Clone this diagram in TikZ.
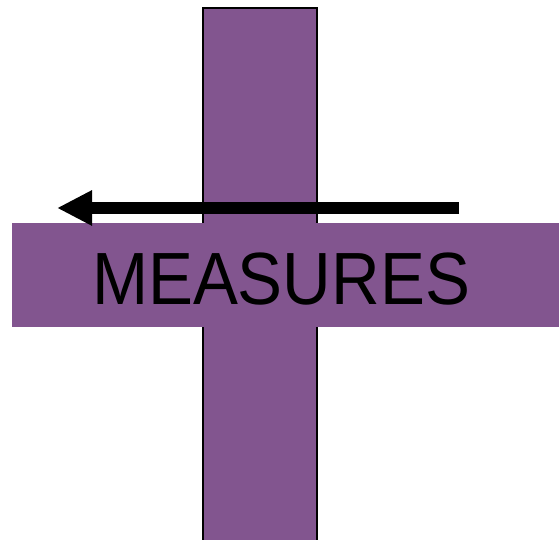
\documentclass[tikz,border=0pt]{standalone}
\usepackage{fontspec}
\setmainfont{Liberation Sans}
\usetikzlibrary{arrows.meta}
\definecolor{barpurple}{RGB}{130,85,143}
\tikzset{
  bar/.style={fill=barpurple},
  label/.style={font=\fontsize{74}{74}\selectfont, text=black, inner sep=0pt, anchor=base, xscale=0.91},
  bigarrow/.style={line width=12pt, -{Triangle[length=35pt,width=33pt]}}
}
\begin{document}
\begin{tikzpicture}[x=1pt,y=1pt]
\useasboundingbox (0,0) rectangle (559,540);
\fill[bar, draw=black, line width=2pt] (203,-5) rectangle (317,532);
\fill[bar] (12,213) rectangle (560,317);
\node[label] (t) at (281,235) {MEASURES};
\coordinate (as) at (459,332);
\coordinate (ae) at (57,332);
\draw[bigarrow] (as) -- (ae);
\end{tikzpicture}
\end{document}
